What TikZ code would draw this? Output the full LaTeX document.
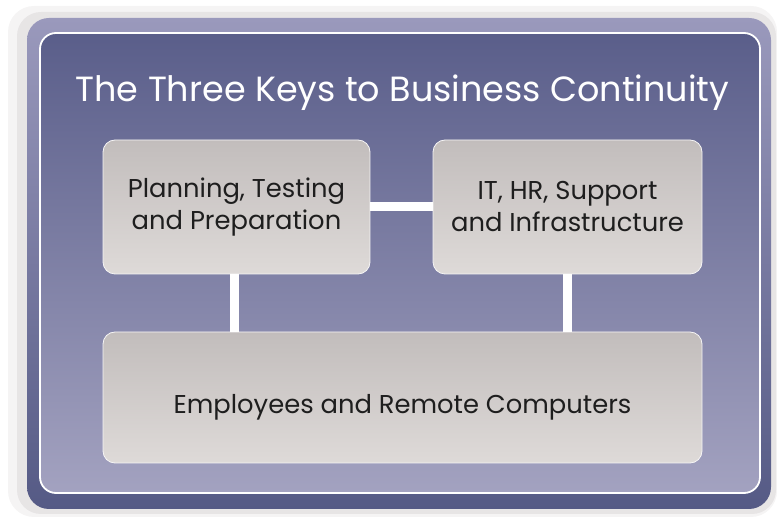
\documentclass[tikz,border=0pt]{standalone}
\usepackage{fontspec}
\setmainfont{Poppins}
\usetikzlibrary{calc}
\definecolor{framedark}{HTML}{555A85}
\definecolor{framelight}{HTML}{9A99BC}
\definecolor{paneltop}{HTML}{5A5E8A}
\definecolor{panelbot}{HTML}{A3A2C0}
\definecolor{boxtop}{HTML}{C2BDBC}
\definecolor{boxbot}{HTML}{DEDAD8}
\definecolor{txt}{HTML}{1E1E1E}
\definecolor{halo}{HTML}{D6D2D3}
\tikzset{
  keybox/.style={rounded corners=12pt, top color=boxtop, bottom color=boxbot,
    draw=white!85!boxtop, line width=0.8pt, inner sep=0pt, align=center,
    text=txt, font=\fontsize{25.8}{32}\selectfont},
  boxtext/.style={inner sep=0pt, align=center, text=txt, font=\fontsize{25.8}{32}\selectfont},
  conn/.style={draw=white, line width=9pt},
  titletext/.style={text=white, font=\fontsize{35}{40}\selectfont, inner sep=0pt}
}
\begin{document}
\begin{tikzpicture}[x=1pt,y=-1pt]
\useasboundingbox (0,0) rectangle (777,518);
% soft halo
\fill[halo, opacity=0.25, rounded corners=26pt] (8,6) rectangle (777,517);
\fill[halo, opacity=0.45, rounded corners=24pt] (17,12) rectangle (776,514);
% outer frame
\shade[rounded corners=22pt, top color=framelight, bottom color=framedark] (27,18) rectangle (771,509);
% inner panel
\shade[rounded corners=16pt, top color=paneltop, bottom color=panelbot, draw=white, line width=1.8pt] (40,33) rectangle (760,493);
% title
\node[titletext] (title) at (402.5,93) {The Three Keys to Business Continuity};
% boxes
\node[keybox, minimum width=267pt, minimum height=134pt] (b1) at (236.5,207) {Planning, Testing\\and Preparation};
\node[keybox, minimum width=269pt, minimum height=134pt] (b2) at (567.5,207) {IT, HR, Support\\and Infrastructure};
\node[keybox, minimum width=599pt, minimum height=131pt] (b3) at (402.5,397.5) {};
\node[boxtext] (b3t) at ([yshift=-10pt]b3.center) {Employees and Remote Computers};
% connectors
\draw[conn] (b1.east) -- (b2.west);
\draw[conn] ([xshift=-2pt]b1.south) -- ([xshift=-2pt]b1.south |- b3.north);
\draw[conn] (b2.south) -- (b2.south |- b3.north);
\end{tikzpicture}
\end{document}
